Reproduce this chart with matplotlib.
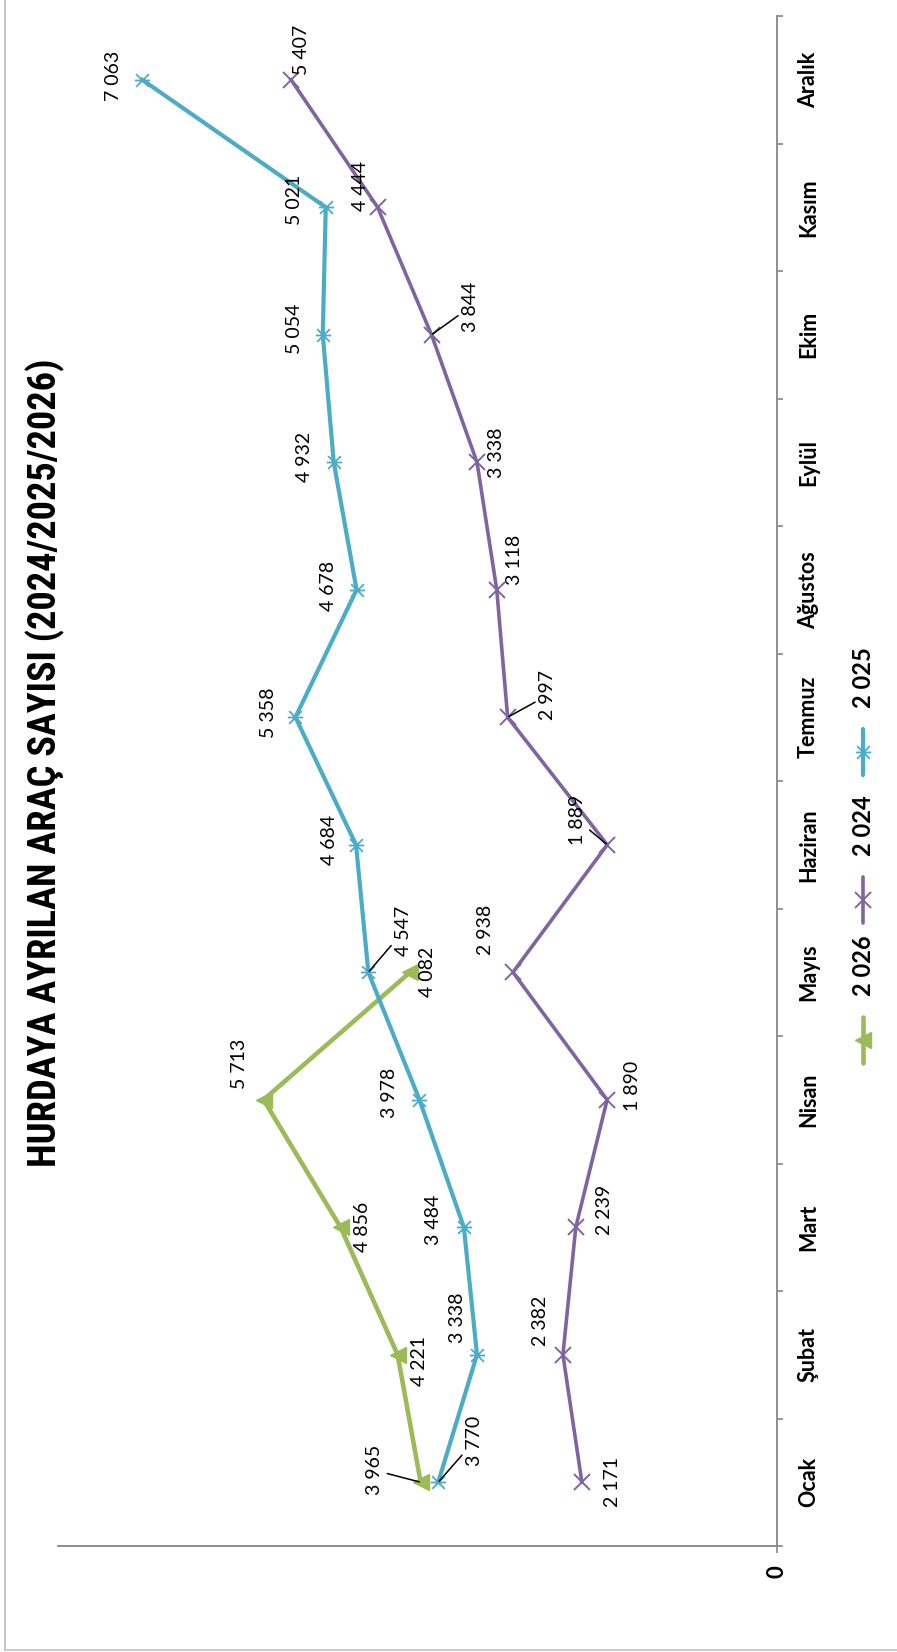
import numpy as np
import matplotlib
matplotlib.use("Agg")
import matplotlib.pyplot as plt
from matplotlib.path import Path
from matplotlib.lines import Line2D
from matplotlib import font_manager

# ---------------- data ----------------
months = ["Ocak", "Şubat", "Mart", "Nisan", "Mayıs", "Haziran",
          "Temmuz", "Ağustos", "Eylül", "Ekim", "Kasım", "Aralık"]
values_2024 = [2171, 2382, 2239, 1890, 2938, 1889, 2997, 3118, 3338, 3844, 4444, 5407]
values_2025 = [3770, 3338, 3484, 3978, 4547, 4684, 5358, 4678, 4932, 5054, 5021, 7063]
values_2026 = [3965, 4221, 4856, 5713, 4082]
legend_labels = ["2 026", "2 024", "2 025"]
title_text = "HURDAYA AYRILAN ARAÇ SAYISI (2024/2025/2026)"
value_max = 8000

# ---------------- layout / style ----------------
W, H = 897, 1652
C24, C25, C26 = "#8064A2", "#4BACC6", "#9BBB59"
AXC = "#868686"
PX = 0.72  # points per pixel at dpi 100

# label offsets (px right, px down) and whether a leader line is drawn
off_2024 = [(31, 0, False), (-22, -34, False), (29, -17, False), (25, -14, False),
            (-27, -42, False), (-30, -25, True), (40, -22, True), (18, -30, False),
            (20, -9, False), (39, -28, True), (-17, -21, False), (10, -30, False)]
off_2025 = [(36, -41, True), (-19, -37, False), (-30, -7, False), (-30, -7, False),
            (35, -41, True), (-27, -5, False), (-27, -5, False), (-28, -4, False),
            (-29, -5, False), (-28, -6, False), (-31, -7, False), (-29, -4, False)]
off_2026 = [(-46, -12, True), (22, 6, False), (22, 0, False), (-24, -36, False), (17, 0, False)]

available = {f.name for f in font_manager.fontManager.ttflist}
def pick(cands, default="DejaVu Sans"):
    for c in cands:
        if c in available:
            return c
    return default

LBL = pick(["Lato", "Open Sans", "Noto Sans"])
TTL = pick(["Liberation Sans Narrow", "DejaVu Sans Condensed", "Roboto Condensed", "Lato"])

star = Path([(-1, -1), (1, 1), (-1, 1), (1, -1), (-1.2, 0), (1.2, 0)],
            [Path.MOVETO, Path.LINETO] * 3)

fig = plt.figure(figsize=(W / 100, H / 100), dpi=100)
fig.patch.set_facecolor("white")

ax_l, ax_r, ax_t, ax_b = 58, 777, 16, 1546
ax = fig.add_axes([ax_l / W, 1 - ax_b / H, (ax_r - ax_l) / W, (ax_b - ax_t) / H])
ax.set_facecolor("none")

pos = np.arange(len(months))

series = [(values_2026, C26, "<", 3.3, 11, 1.0, off_2026),
          (values_2024, C24, "x", 2.6, 11, 1.4, off_2024),
          (values_2025, C25, star, 3.0, 11, 1.3, off_2025)]

for vals, col, mk, lw, ms, mew, offs in series:
    y = pos[:len(vals)]
    if mk == "<":
        ax.plot(vals, y, color=col, lw=lw, marker=mk, ms=ms, mfc=col, mec=col,
                solid_joinstyle="miter", zorder=3)
    else:
        ax.plot(vals, y, color=col, lw=lw, marker=mk, ms=ms, mfc="none", mec=col,
                mew=mew, zorder=3)
    for v, yy, (dx, dy, lead) in zip(vals, y, offs):
        txt = f"{v:,}".replace(",", " ")
        kw = dict(textcoords="offset points", rotation=90, ha="center", va="center",
                  fontsize=14, family=[LBL, "DejaVu Sans"], color="black", zorder=5)
        if lead:
            kw["arrowprops"] = dict(arrowstyle="-", color="black", lw=1.1,
                                    shrinkA=1, shrinkB=1)
        ax.annotate(txt, xy=(v, yy), xytext=(dx * PX, -dy * PX), **kw)

ax.set_xlim(value_max, 0)
ax.set_ylim(-0.5, len(months) - 0.5)

for s in ["left", "top"]:
    ax.spines[s].set_visible(False)
for s in ["right", "bottom"]:
    ax.spines[s].set_color(AXC)
    ax.spines[s].set_linewidth(1.3)

ax.yaxis.tick_right()
ax.set_yticks(np.arange(-0.5, len(months), 1.0))
ax.set_yticklabels([])
ax.set_yticks(pos, minor=True)
ax.set_yticklabels(months, minor=True, rotation=90, va="center", ha="left",
                   fontsize=15.5, fontweight="bold", family=[LBL, "DejaVu Sans"])
ax.tick_params(axis="y", which="major", direction="out", length=4.3, width=1.2,
               color=AXC, right=True, left=False)
ax.tick_params(axis="y", which="minor", length=0, pad=15, right=True, left=False)

ax.set_xticks([0])
ax.set_xticklabels(["0"], rotation=90, fontsize=16, fontweight="bold",
                   family=[LBL, "DejaVu Sans"], ha="center", va="top")
ax.tick_params(axis="x", which="major", direction="out", length=5, width=1.2,
               color=AXC, pad=9)

# title
t = fig.text(45 / W, 1 - 763 / H, title_text, rotation=90, ha="center", va="center",
             fontsize=28, fontweight="bold", family=[TTL, "DejaVu Sans"])
fig.canvas.draw()
ext = t.get_window_extent()
t.set_fontsize(28 * 809 / ext.height)

# legend (manual, rotated)
lx = 863
leg_centers = [1040, 900, 752]
leg_styles = [(C26, "<", 3.3, 11, 1.0), (C24, "x", 2.6, 11, 1.4), (C25, star, 3.0, 11, 1.3)]
for lab, yc, (col, mk, lw, ms, mew) in zip(legend_labels, leg_centers, leg_styles):
    fig.add_artist(Line2D([lx / W, lx / W], [1 - (yc + 23) / H, 1 - (yc - 23) / H],
                          transform=fig.transFigure, color=col, lw=lw,
                          solid_capstyle="round"))
    fig.add_artist(Line2D([lx / W], [1 - yc / H], transform=fig.transFigure,
                          marker=mk, ms=ms, mfc=col if mk == "<" else "none",
                          mec=col, mew=mew, lw=0))
    fig.text(lx / W, 1 - (yc - 74) / H, lab, rotation=90, ha="center", va="center",
             fontsize=17, fontweight="bold", family=[LBL, "DejaVu Sans"])

# outer frame (left and bottom edges visible)
fig.add_artist(Line2D([5 / W, 5 / W], [1 - 1650 / H, 1.0], transform=fig.transFigure,
                      color="#BFBFBF", lw=1.2))
fig.add_artist(Line2D([5 / W, 1.0], [1 - 1650 / H, 1 - 1650 / H], transform=fig.transFigure,
                      color="#BFBFBF", lw=1.2))

fig.savefig("out.png", dpi=100, facecolor="white")
